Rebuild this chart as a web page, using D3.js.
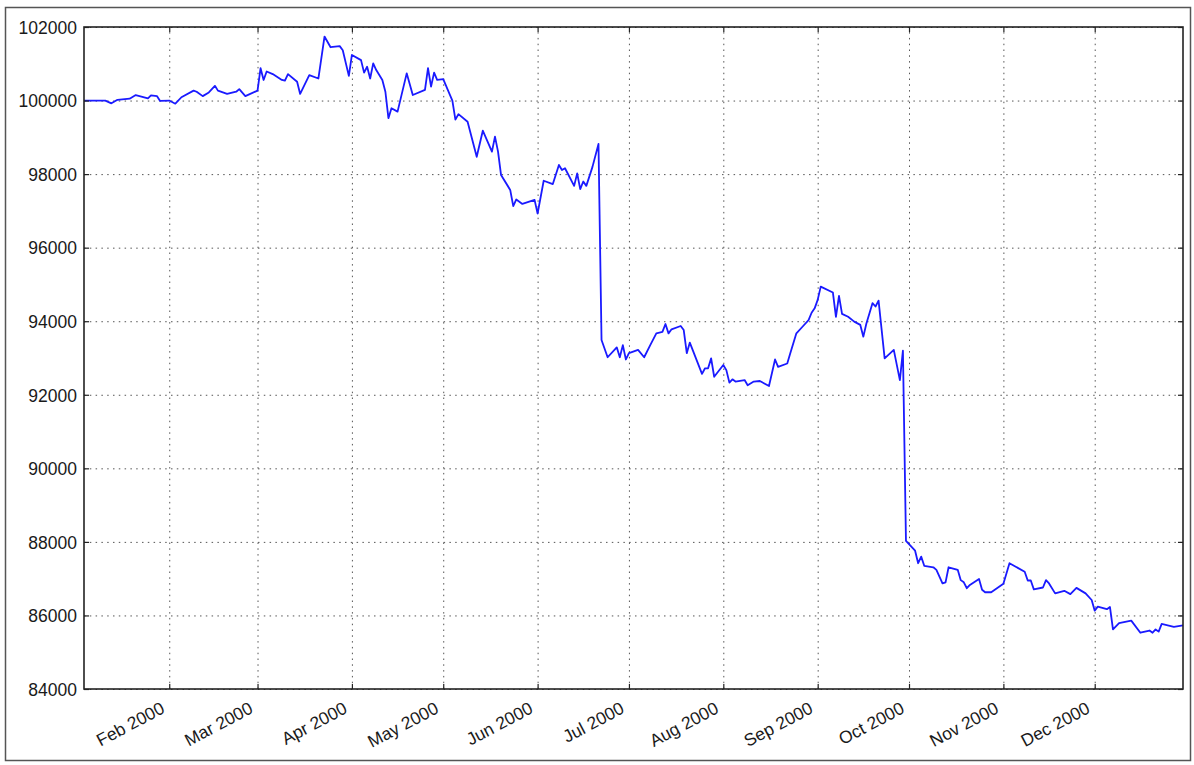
<!DOCTYPE html>
<meta charset="utf-8">
<style>
    body {
        margin: 0;
        background: #fff;
    }
    svg {
        font-family: 'DejaVu Sans', 'Bitstream Vera Sans', sans-serif;
    }
    .grid line {
        stroke: #555;
        stroke-width: 1;
        stroke-dasharray: 1.5, 4.3;
    }
    .grid .domain {
        display: none;
    }
    .axis .domain {
        display: none;
    }
    .axis line {
        stroke: #222;
        stroke-width: 1.2;
    }
    .axis text {
        font-size: 17.5px;
        fill: #1a1a1a;
    }
</style>
<svg width="1194" height="765"></svg>
<script src="https://d3js.org/d3.v7.min.js"></script>
<script>

    // portfolio value
    var dates = [
        "2000-01-04", "2000-01-11", "2000-01-13", "2000-01-15", "2000-01-19", "2000-01-21", "2000-01-25", "2000-01-26",
        "2000-01-28", "2000-01-29", "2000-02-01", "2000-02-03", "2000-02-05", "2000-02-09", "2000-02-10", "2000-02-12",
        "2000-02-14", "2000-02-16", "2000-02-17", "2000-02-20", "2000-02-23", "2000-02-24", "2000-02-26", "2000-03-01",
        "2000-03-02", "2000-03-03", "2000-03-04", "2000-03-06", "2000-03-09", "2000-03-10", "2000-03-11", "2000-03-14",
        "2000-03-15", "2000-03-18", "2000-03-21", "2000-03-23", "2000-03-25", "2000-03-28", "2000-03-29", "2000-03-31",
        "2000-04-01", "2000-04-04", "2000-04-05", "2000-04-06", "2000-04-07", "2000-04-08", "2000-04-09", "2000-04-11",
        "2000-04-12", "2000-04-13", "2000-04-14", "2000-04-16", "2000-04-19", "2000-04-21", "2000-04-25", "2000-04-26",
        "2000-04-27", "2000-04-28", "2000-04-29", "2000-05-01", "2000-05-04", "2000-05-05", "2000-05-06", "2000-05-09",
        "2000-05-12", "2000-05-14", "2000-05-17", "2000-05-18", "2000-05-19", "2000-05-20", "2000-05-23", "2000-05-24",
        "2000-05-25", "2000-05-27", "2000-05-31", "2000-06-01", "2000-06-03", "2000-06-06", "2000-06-08", "2000-06-09",
        "2000-06-10", "2000-06-13", "2000-06-14", "2000-06-15", "2000-06-16", "2000-06-17", "2000-06-19", "2000-06-21",
        "2000-06-22", "2000-06-24", "2000-06-27", "2000-06-28", "2000-06-29", "2000-06-30", "2000-07-01", "2000-07-04",
        "2000-07-06", "2000-07-08", "2000-07-10", "2000-07-12", "2000-07-13", "2000-07-14", "2000-07-15", "2000-07-18",
        "2000-07-19", "2000-07-20", "2000-07-21", "2000-07-25", "2000-07-26", "2000-07-27", "2000-07-28", "2000-07-29",
        "2000-08-01", "2000-08-02", "2000-08-03", "2000-08-04", "2000-08-05", "2000-08-08", "2000-08-09", "2000-08-11",
        "2000-08-13", "2000-08-16", "2000-08-18", "2000-08-19", "2000-08-22", "2000-08-23", "2000-08-25", "2000-08-27",
        "2000-08-29", "2000-08-30", "2000-08-31", "2000-09-01", "2000-09-02", "2000-09-06", "2000-09-07", "2000-09-08",
        "2000-09-09", "2000-09-11", "2000-09-13", "2000-09-15", "2000-09-16", "2000-09-17", "2000-09-19", "2000-09-20",
        "2000-09-21", "2000-09-23", "2000-09-26", "2000-09-28", "2000-09-29", "2000-09-30", "2000-10-03", "2000-10-04",
        "2000-10-05", "2000-10-06", "2000-10-09", "2000-10-10", "2000-10-12", "2000-10-13", "2000-10-14", "2000-10-17",
        "2000-10-18", "2000-10-19", "2000-10-20", "2000-10-21", "2000-10-24", "2000-10-25", "2000-10-26", "2000-10-28",
        "2000-11-01", "2000-11-03", "2000-11-08", "2000-11-09", "2000-11-10", "2000-11-11", "2000-11-14", "2000-11-15",
        "2000-11-16", "2000-11-18", "2000-11-21", "2000-11-23", "2000-11-25", "2000-11-28", "2000-11-30", "2000-12-01",
        "2000-12-02", "2000-12-05", "2000-12-06", "2000-12-07", "2000-12-09", "2000-12-13", "2000-12-16", "2000-12-19",
        "2000-12-20", "2000-12-21", "2000-12-22", "2000-12-23", "2000-12-27", "2000-12-30"
    ];

    var equity = [
        100000, 100000, 99925, 100020, 100050, 100150, 100060, 100140,
        100120, 99990, 100000, 99915, 100090, 100270, 100240, 100120,
        100220, 100400, 100270, 100180, 100240, 100310, 100120, 100270,
        100880, 100560, 100790, 100720, 100560, 100540, 100720, 100510,
        100180, 100690, 100600, 101740, 101450, 101480, 101370, 100670,
        101240, 101100, 100760, 100920, 100600, 101010, 100830, 100560,
        100240, 99520, 99790, 99700, 100740, 100150, 100290, 100880,
        100380, 100760, 100560, 100580, 100000, 99480, 99630, 99425,
        98470, 99180, 98610, 99020, 98610, 97975, 97570, 97130,
        97310, 97190, 97300, 96930, 97820, 97730, 98250, 98110,
        98160, 97680, 98020, 97590, 97800, 97680, 98190, 98820,
        93490, 93020, 93290, 93020, 93350, 92960, 93130, 93220,
        93020, 93350, 93670, 93710, 93925, 93670, 93780, 93870,
        93760, 93130, 93420, 92570, 92720, 92720, 92990, 92490,
        92810, 92670, 92330, 92420, 92360, 92400, 92260, 92360,
        92375, 92240, 92960, 92760, 92850, 93130, 93670, 93850,
        94030, 94230, 94350, 94580, 94940, 94780, 94120, 94690,
        94200, 94120, 93990, 93900, 93580, 93940, 94490, 94400,
        94560, 92990, 93220, 92400, 93200, 88030, 87760, 87420,
        87600, 87350, 87310, 87240, 86870, 86900, 87310, 87240,
        86960, 86900, 86740, 86830, 86990, 86700, 86630, 86630,
        86860, 87420, 87190, 86950, 86950, 86710, 86760, 86960,
        86870, 86600, 86670, 86580, 86750, 86600, 86420, 86130,
        86240, 86170, 86230, 85620, 85790, 85860, 85530, 85590,
        85530, 85620, 85560, 85770, 85690, 85730
    ];

    var yTicks = [84000, 86000, 88000, 90000, 92000, 94000, 96000, 98000, 100000, 102000];
    var monthTicks = ["2000-02-01", "2000-03-01", "2000-04-01", "2000-05-01", "2000-06-01", "2000-07-01",
        "2000-08-01", "2000-09-01", "2000-10-01", "2000-11-01", "2000-12-01"];

    var svg = d3.select("svg"),
        margin = {top: 27, right: 11, bottom: 76, left: 84},
        width = +svg.attr("width") - margin.left - margin.right,
        height = +svg.attr("height") - margin.top - margin.bottom;

    var parse = d3.timeParse("%Y-%m-%d");
    var points = dates.map(function (d, i) {
        return {date: parse(d), value: equity[i]};
    });
    var monthDates = monthTicks.map(parse);

    var x = d3.scaleTime()
        .domain(d3.extent(points, function (d) { return d.date; }))
        .range([0, width]);
    var y = d3.scaleLinear()
        .domain([yTicks[0], yTicks[yTicks.length - 1]])
        .range([height, 0]);

    // figure frame
    svg.append("rect")
        .attr("x", 5.5).attr("y", 7.5)
        .attr("width", 1185).attr("height", 753)
        .attr("fill", "none")
        .attr("stroke", "#555")
        .attr("stroke-width", 1.5);

    var g = svg.append("g")
        .attr("transform", "translate(" + margin.left + "," + margin.top + ")");

    // dotted grid
    g.append("g")
        .attr("class", "grid")
        .attr("transform", "translate(0," + height + ")")
        .call(d3.axisBottom(x).tickValues(monthDates).tickSize(-height).tickFormat(""));
    g.append("g")
        .attr("class", "grid")
        .call(d3.axisLeft(y).tickValues(yTicks).tickSize(-width).tickFormat(""));

    var line = d3.line()
        .x(function (d) { return x(d.date); })
        .y(function (d) { return y(d.value); });

    g.append("path")
        .datum(points)
        .attr("fill", "none")
        .attr("stroke", "#1a1aff")
        .attr("stroke-width", 1.8)
        .attr("stroke-linejoin", "round")
        .attr("d", line);

    // ticks point inwards, on all four sides
    g.append("g")
        .attr("class", "axis")
        .call(d3.axisLeft(y).tickValues(yTicks).tickSize(-5).tickPadding(7).tickFormat(d3.format("d")))
        .selectAll("text")
        .attr("dy", "0.36em");

    g.append("g")
        .attr("class", "axis")
        .attr("transform", "translate(" + width + ",0)")
        .call(d3.axisRight(y).tickValues(yTicks).tickSize(-5).tickFormat(""));

    g.append("g")
        .attr("class", "axis")
        .call(d3.axisTop(x).tickValues(monthDates).tickSize(-5).tickFormat(""));

    var xAxis = g.append("g")
        .attr("class", "axis")
        .attr("transform", "translate(0," + height + ")")
        .call(d3.axisBottom(x).tickValues(monthDates).tickSize(-5).tickFormat(d3.timeFormat("%b %Y")));

    xAxis.selectAll("text")
        .attr("y", null)
        .attr("dy", null)
        .attr("text-anchor", "end")
        .attr("transform", "translate(-4,23) rotate(-28)");

    // axes box
    g.append("rect")
        .attr("width", width)
        .attr("height", height)
        .attr("fill", "none")
        .attr("stroke", "#222")
        .attr("stroke-width", 1.6);

</script>
